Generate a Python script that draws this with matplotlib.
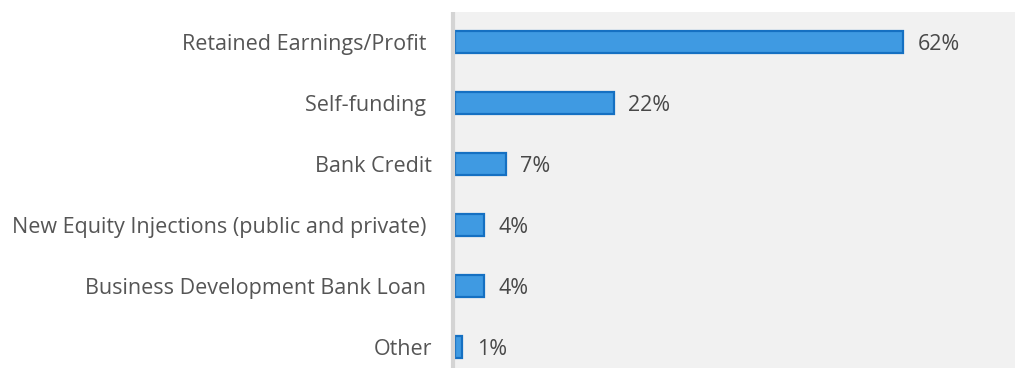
import matplotlib
matplotlib.use("Agg")
import matplotlib.pyplot as plt

categories = [
    "Retained Earnings/Profit ",
    "Self-funding ",
    "Bank Credit",
    "New Equity Injections (public and private) ",
    "Business Development Bank Loan ",
    "Other",
]
values = [62, 22, 7, 4, 4, 1]
value_labels = ["62%", "22%", "7%", "4%", "4%", "1%"]

plt.rcParams["font.family"] = ["Open Sans", "DejaVu Sans"]

W, H = 1015, 368
fig = plt.figure(figsize=(W / 100, H / 100), dpi=100)
ax = fig.add_axes([455 / W, 0, (W - 455) / W, (H - 12) / H])

ax.set_facecolor("#f1f1f1")
fig.patch.set_facecolor("white")

# Axis frame: only a thick light-grey left rule
for s in ["top", "right", "bottom"]:
    ax.spines[s].set_visible(False)
ax.spines["left"].set_position(("outward", 1.5))
ax.spines["left"].set_color("#d4d4d4")
ax.spines["left"].set_linewidth(3)
ax.spines["left"].set_capstyle("butt")

ypos = list(range(len(categories)))
ax.barh(ypos, values, height=0.36, color="#3f9ae2", edgecolor="#1570c2",
        linewidth=1.6)

for y, v, lab in zip(ypos, values, value_labels):
    ax.text(v + 2.0, y, lab, va="center_baseline", ha="left", fontsize=15.5,
            color="#484848")

ax.set_ylim(len(categories) - 1 + 0.34, -0.49)
ax.set_xlim(0, 77.5)
ax.set_yticks(ypos)
ax.set_yticklabels(categories)
ax.tick_params(axis="y", length=0, pad=15, labelsize=15.5,
               labelcolor="#555555")
ax.set_xticks([])

fig.savefig("out.png", dpi=100)
